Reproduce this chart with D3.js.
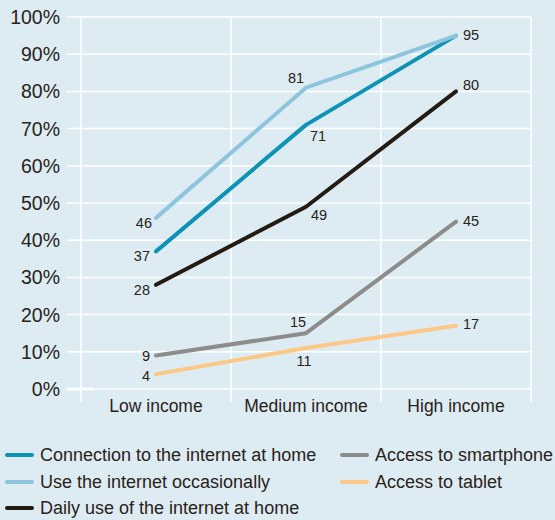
<!DOCTYPE html>
<html>
<head>
<meta charset="utf-8">
<script src="https://cdn.jsdelivr.net/npm/d3@7/dist/d3.min.js"></script>
<style>
  html, body { margin: 0; padding: 0; background: #ddecf3; }
  svg { display: block; font-family: "Liberation Sans", Arial, Helvetica, sans-serif; }
</style>
</head>
<body>
<svg id="chart" width="555" height="520"></svg>
<script>
// ---- data ----
const categories = ["Low income", "Medium income", "High income"];
const yTicks = [0, 10, 20, 30, 40, 50, 60, 70, 80, 90, 100];
const connectionHome = [37, 71, 95];
const useOccasionally = [46, 81, 95];
const dailyUseHome = [28, 49, 80];
const accessSmartphone = [9, 15, 45];
const accessTablet = [4, 11, 17];
const seriesNames = [
  "Connection to the internet at home",
  "Use the internet occasionally",
  "Daily use of the internet at home",
  "Access to smartphone",
  "Access to tablet"
];

// ---- styling (not data) ----
const colors = ["#0e93b4", "#8dc6dc", "#241b12", "#8e8c8a", "#fdc886"];
const textColor = "#2a2218";
// label offsets [dx, dy, anchor] per series per point
const labelPlacement = [
  [[-6, 4, "end"], [12, 11, "middle"], [null]],          // connection (95 shared)
  [[-4, 5, "end"], [-10, -10, "middle"], [7, -1, "start"]],
  [[-6, 5, "end"], [13, 8, "middle"], [7, -7, "start"]],
  [[-6, 0, "end"], [-8, -11, "middle"], [7, -1, "start"]],
  [[-6, 2, "end"], [-2, 13, "middle"], [7, -2, "start"]]
];

const svg = d3.select("#chart");
const seriesValues = [connectionHome, useOccasionally, dailyUseHome, accessSmartphone, accessTablet];

const x = d3.scaleBand().domain(categories).range([81, 531]).padding(0);
const y = d3.scaleLinear().domain([0, 100]).range([389, 17]);
const cx = c => x(c) + x.bandwidth() / 2;

// horizontal gridlines
svg.append("g").selectAll("line").data(yTicks).join("line")
  .attr("x1", 67).attr("x2", 531)
  .attr("y1", d => y(d)).attr("y2", d => y(d))
  .attr("stroke", "#ffffff").attr("stroke-width", 1.5);
// emphasised zero segment
svg.append("line").attr("x1", 67).attr("x2", 93).attr("y1", y(0)).attr("y2", y(0))
  .attr("stroke", "#ffffff").attr("stroke-width", 3);

// vertical gridlines (band edges)
const edges = categories.map(c => x(c)).concat([x(categories[categories.length - 1]) + x.bandwidth()]);
svg.append("g").selectAll("line").data(edges).join("line")
  .attr("x1", d => d).attr("x2", d => d)
  .attr("y1", y(100)).attr("y2", 402)
  .attr("stroke", "#ffffff").attr("stroke-width", 1.5);

// y tick labels
svg.append("g").selectAll("text").data(yTicks).join("text")
  .attr("x", 60).attr("y", d => y(d))
  .attr("dy", "0.36em")
  .attr("text-anchor", "end")
  .attr("font-size", 19.5)
  .attr("fill", textColor)
  .text(d => d + "%");

// category labels
svg.append("g").selectAll("text").data(categories).join("text")
  .attr("x", d => cx(d)).attr("y", 412)
  .attr("text-anchor", "middle")
  .attr("font-size", 17.5)
  .attr("fill", textColor)
  .text(d => d);

// lines
const line = d3.line().x((d, i) => cx(categories[i])).y(d => y(d));
const drawOrder = [4, 3, 2, 0, 1];
drawOrder.forEach(si => {
  svg.append("path")
    .datum(seriesValues[si])
    .attr("d", line)
    .attr("fill", "none")
    .attr("stroke", colors[si])
    .attr("stroke-width", 4)
    .attr("stroke-linecap", "round")
    .attr("stroke-linejoin", "round");
});

// value labels
seriesValues.forEach((vals, si) => {
  vals.forEach((v, i) => {
    const p = labelPlacement[si][i];
    if (p[0] === null) return;
    svg.append("text")
      .attr("x", cx(categories[i]) + p[0])
      .attr("y", y(v) + p[1])
      .attr("dy", "0.36em")
      .attr("text-anchor", p[2])
      .attr("font-size", 14.5)
      .attr("fill", textColor)
      .text(v);
  });
});

// legend
const legendPos = [
  [5, 455], [5, 482], [5, 508], [340, 455], [340, 482]
];
seriesNames.forEach((name, si) => {
  const [lx, ly] = legendPos[si];
  const g = svg.append("g").attr("transform", `translate(${lx},${ly})`);
  g.append("line").attr("x1", 2).attr("x2", 27).attr("y1", 0).attr("y2", 0)
    .attr("stroke", colors[si]).attr("stroke-width", 4).attr("stroke-linecap", "round");
  g.append("text").attr("x", 35).attr("y", 0).attr("dy", "0.36em")
    .attr("font-size", 18).attr("fill", textColor).text(name);
});
</script>
</body>
</html>
